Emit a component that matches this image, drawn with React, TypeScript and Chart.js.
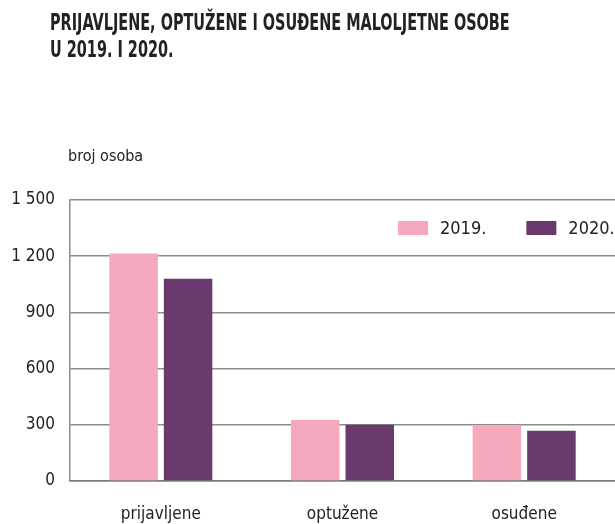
import React, { useEffect, useRef } from "react";
import { Chart, registerables } from "chart.js";

Chart.register(...registerables);

const titleLines = ["PRIJAVLJENE, OPTUŽENE I OSUĐENE MALOLJETNE OSOBE", "U 2019. I 2020."];
const unitLabel = "broj osoba";
const categories = ["prijavljene", "optužene", "osuđene"];
const seriesLabels = ["2019.", "2020."];
const values2019 = [1215, 325, 297];
const values2020 = [1080, 300, 268];
const seriesColors = ["#F6A8BC", "#6A3A6F"];
const yMin = 0;
const yMax = 1500;
const yStep = 300;

const FONT = '"Liberation Sans Narrow", "DejaVu Sans Condensed", "Roboto", sans-serif';

const legendPlugin = {
  id: "customLegend",
  afterDatasetsDraw(chart: any) {
    const ctx = chart.ctx;
    const datasets = chart.data.datasets;
    ctx.save();
    ctx.font = `18px ${FONT}`;
    ctx.textBaseline = "middle";
    ctx.textAlign = "left";
    let x = 398;
    const cy = 228;
    datasets.forEach((ds: any) => {
      ctx.fillStyle = ds.backgroundColor;
      ctx.fillRect(x, cy - 7, 30, 14);
      ctx.fillStyle = "#222";
      ctx.fillText(ds.label, x + 42, cy + 1);
      const w = ctx.measureText(ds.label).width;
      x += 42 + w + 40;
    });
    ctx.restore();
  },
};

export default function App() {
  const ref = useRef<HTMLCanvasElement | null>(null);
  const titleRef = useRef<HTMLDivElement | null>(null);

  useEffect(() => {
    const t = titleRef.current;
    if (t) {
      const w = t.scrollWidth;
      if (w > 0) t.style.transform = `scaleX(${460 / w})`;
    }
    if (!ref.current) return;
    const chart = new Chart(ref.current, {
      type: "bar",
      data: {
        labels: categories,
        datasets: [
          { label: seriesLabels[0], data: values2019, backgroundColor: seriesColors[0] },
          { label: seriesLabels[1], data: values2020, backgroundColor: seriesColors[1] },
        ],
      },
      options: {
        responsive: false,
        animation: false,
        devicePixelRatio: 1,
        layout: { padding: { top: 200, right: 0, left: 0, bottom: 0 } },
        datasets: {
          bar: { categoryPercentage: 0.6, barPercentage: 0.89 },
        },
        plugins: {
          legend: { display: false },
          tooltip: { enabled: false },
          title: { display: false },
        },
        scales: {
          x: {
            grid: { display: false, drawTicks: false },
            border: { display: true, color: "#7a7a7a", width: 1.5 },
            ticks: {
              color: "#222",
              font: { family: FONT, size: 17 },
              padding: 23,
            },
            afterFit(scale: any) {
              scale.height = 43;
            },
          },
          y: {
            min: yMin,
            max: yMax,
            ticks: {
              stepSize: yStep,
              color: "#222",
              font: { family: FONT, size: 17 },
              padding: 15,
              callback: (v: any) => {
                const n = Number(v);
                return n >= 1000
                  ? Math.floor(n / 1000) + " " + String(n % 1000).padStart(3, "0")
                  : String(n);
              },
            },
            grid: { color: "#8c8c8c", lineWidth: 1.5, drawTicks: false },
            border: { display: true, color: "#8c8c8c", width: 1.5 },
            afterFit(scale: any) {
              scale.width = 70;
            },
          },
        },
      },
      plugins: [legendPlugin],
    });
    return () => chart.destroy();
  }, []);

  return (
    <div style={{ position: "absolute", left: 0, top: 0, width: 615, height: 524, background: "#fff", overflow: "hidden" }}>
      <canvas ref={ref} width={615} height={524} style={{ position: "absolute", left: 0, top: 0 }} />
      <div
        ref={titleRef}
        style={{
          position: "absolute",
          left: 50,
          top: 9,
          fontFamily: FONT,
          fontWeight: "bold",
          fontSize: 23,
          lineHeight: "27px",
          color: "#222",
          whiteSpace: "nowrap",
          transformOrigin: "0 0",
        }}
      >
        {titleLines.map((l, i) => (
          <div key={i}>{l}</div>
        ))}
      </div>
      <div
        style={{
          position: "absolute",
          left: 68,
          top: 146,
          fontFamily: FONT,
          fontSize: 16,
          color: "#222",
        }}
      >
        {unitLabel}
      </div>
    </div>
  );
}
